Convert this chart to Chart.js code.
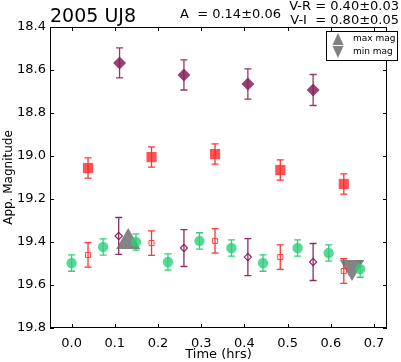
<!DOCTYPE html>
<html>
<head>
<meta charset="utf-8">
<script src="https://cdn.jsdelivr.net/npm/chart.js@4.4.1/dist/chart.umd.min.js"></script>
<style>
  html, body { margin: 0; padding: 0; background: #fff; }
</style>
</head>
<body>
<canvas id="lightcurve" width="401" height="362"></canvas>
<script>
// tick labels
const xTicks = [0.0, 0.1, 0.2, 0.3, 0.4, 0.5, 0.6, 0.7];
const yTicks = [18.4, 18.6, 18.8, 19.0, 19.2, 19.4, 19.6, 19.8];

// V-I (offset) - filled diamonds
const viTime = [0.111, 0.260, 0.408, 0.559];
const viMag  = [18.567, 18.623, 18.665, 18.693];
const viErr  = [0.070, 0.070, 0.070, 0.072];

// V-R (offset) - filled squares
const vrTime = [0.038, 0.185, 0.332, 0.483, 0.630];
const vrMag  = [19.056, 19.005, 18.991, 19.065, 19.130];
const vrErr  = [0.047, 0.047, 0.047, 0.047, 0.047];

// V - circles
const vTime = [0.000, 0.073, 0.149, 0.223, 0.296, 0.370, 0.443, 0.523, 0.595, 0.668];
const vMag  = [19.498, 19.423, 19.400, 19.493, 19.395, 19.428, 19.498, 19.428, 19.451, 19.526];
const vErr  = [0.038, 0.038, 0.038, 0.038, 0.038, 0.038, 0.038, 0.038, 0.038, 0.038];

// R shifted to V - open squares
const rTime = [0.038, 0.185, 0.332, 0.483, 0.630];
const rMag  = [19.460, 19.405, 19.395, 19.470, 19.535];
const rErr  = [0.057, 0.057, 0.057, 0.057, 0.057];

// I shifted to V - open diamonds
const iTime = [0.109, 0.260, 0.408, 0.559];
const iMag  = [19.372, 19.428, 19.470, 19.493];
const iErr  = [0.086, 0.086, 0.086, 0.086];

// extrema
const maxTime = [0.131];
const maxMag  = [19.400];
const minTime = [0.649];
const minMag  = [19.516];

function pts(t, m, e) {
    return t.map((v, i) => ({ x: v, y: m[i], err: e ? e[i] : 0 }));
}

const FONT = 'DejaVu Sans';

// draws vertical error bars with caps, under the markers
const errorBars = {
    id: 'errorBars',
    beforeDatasetsDraw(chart) {
        const ctx = chart.ctx;
        const xs = chart.scales.x, ys = chart.scales.y;
        chart.data.datasets.forEach(ds => {
            if (!ds.errColor) return;
            ctx.save();
            ctx.strokeStyle = ds.errColor;
            ctx.lineWidth = 1.3;
            ds.data.forEach(p => {
                if (!p.err) return;
                const px = xs.getPixelForValue(p.x);
                const y1 = ys.getPixelForValue(p.y - p.err);
                const y2 = ys.getPixelForValue(p.y + p.err);
                ctx.beginPath();
                ctx.moveTo(px, y1); ctx.lineTo(px, y2);
                ctx.moveTo(px - 3.5, y1); ctx.lineTo(px + 3.5, y1);
                ctx.moveTo(px - 3.5, y2); ctx.lineTo(px + 3.5, y2);
                ctx.stroke();
            });
            ctx.restore();
        });
    }
};

// frame, inward ticks, annotations and the small legend box
const decorations = {
    id: 'decorations',
    afterDraw(chart) {
        const ctx = chart.ctx;
        const a = chart.chartArea;
        const xs = chart.scales.x, ys = chart.scales.y;
        ctx.save();
        ctx.strokeStyle = '#000';
        ctx.lineWidth = 1;
        ctx.strokeRect(a.left + 0.5, a.top + 0.5, a.right - a.left - 1, a.bottom - a.top - 1);

        ctx.beginPath();
        xTicks.forEach(t => {
            const px = Math.round(xs.getPixelForValue(t)) + 0.5;
            ctx.moveTo(px, a.bottom); ctx.lineTo(px, a.bottom - 4);
            ctx.moveTo(px, a.top); ctx.lineTo(px, a.top + 4);
        });
        yTicks.forEach(t => {
            const py = Math.round(ys.getPixelForValue(t)) + 0.5;
            ctx.moveTo(a.left, py); ctx.lineTo(a.left + 4, py);
            ctx.moveTo(a.right, py); ctx.lineTo(a.right - 4, py);
        });
        ctx.stroke();

        ctx.fillStyle = '#000';
        ctx.textBaseline = 'alphabetic';
        ctx.textAlign = 'left';
        ctx.font = '19px "' + FONT + '"';
        ctx.fillText('2005 UJ8', 50, 22);
        ctx.font = '13px "' + FONT + '"';
        ctx.fillText('A  = 0.14\u00b10.06', 180, 18);
        ctx.textAlign = 'right';
        ctx.fillText('V-R = 0.40\u00b10.03', 399, 10);
        ctx.fillText('V-I  = 0.80\u00b10.05', 399, 24);

        // legend
        ctx.fillStyle = '#fff';
        ctx.fillRect(326, 31, 72, 30);
        ctx.strokeRect(326.5, 31.5, 71, 29);
        ctx.fillStyle = '#808080';
        ctx.beginPath();
        ctx.moveTo(338, 33); ctx.lineTo(343.5, 45); ctx.lineTo(332.5, 45); ctx.closePath();
        ctx.fill();
        ctx.beginPath();
        ctx.moveTo(332.5, 46); ctx.lineTo(343.5, 46); ctx.lineTo(338, 58); ctx.closePath();
        ctx.fill();
        ctx.fillStyle = '#000';
        ctx.textAlign = 'left';
        ctx.textBaseline = 'middle';
        ctx.font = '9px "' + FONT + '"';
        ctx.fillText('max mag', 353, 39);
        ctx.fillText('min mag', 353, 52);
        ctx.restore();
    }
};

const ctx = document.getElementById('lightcurve').getContext('2d');
const lightcurve = new Chart(ctx, {
    type: 'scatter',
    data: {
        datasets: [
            {
                label: 'V-I',
                data: pts(viTime, viMag, viErr),
                pointStyle: 'rectRot',
                pointRadius: 6.5,
                backgroundColor: 'rgba(135, 30, 95, 0.85)',
                borderColor: 'rgba(135, 30, 95, 0.85)',
                borderWidth: 0,
                errColor: 'rgba(130, 20, 80, 0.85)'
            },
            {
                label: 'V-R',
                data: pts(vrTime, vrMag, vrErr),
                pointStyle: 'rect',
                pointRadius: 7.2,
                backgroundColor: 'rgba(255, 40, 40, 0.8)',
                borderWidth: 0,
                errColor: 'rgba(255, 30, 30, 0.9)'
            },
            {
                label: 'V',
                data: pts(vTime, vMag, vErr),
                pointStyle: 'circle',
                pointRadius: 5.2,
                backgroundColor: 'rgba(40, 210, 120, 0.8)',
                borderWidth: 0,
                errColor: 'rgba(30, 200, 110, 0.9)'
            },
            {
                label: 'R',
                data: pts(rTime, rMag, rErr),
                pointStyle: 'rect',
                pointRadius: 3.6,
                backgroundColor: 'rgba(255, 255, 255, 0)',
                borderColor: 'rgba(255, 40, 40, 0.85)',
                borderWidth: 1,
                errColor: 'rgba(255, 30, 30, 0.9)'
            },
            {
                label: 'I',
                data: pts(iTime, iMag, iErr),
                pointStyle: 'rectRot',
                pointRadius: 3.6,
                backgroundColor: 'rgba(255, 255, 255, 0)',
                borderColor: 'rgba(130, 20, 80, 0.9)',
                borderWidth: 1.2,
                errColor: 'rgba(130, 20, 80, 0.9)'
            },
            {
                label: 'max mag',
                data: pts(maxTime, maxMag),
                pointStyle: 'triangle',
                pointRadius: 14,
                backgroundColor: 'rgba(110, 110, 110, 0.85)',
                borderWidth: 0
            },
            {
                label: 'min mag',
                data: pts(minTime, minMag),
                pointStyle: 'triangle',
                pointRotation: 180,
                pointRadius: 14,
                backgroundColor: 'rgba(110, 110, 110, 0.85)',
                borderWidth: 0
            }
        ]
    },
    options: {
        responsive: false,
        animation: false,
        devicePixelRatio: 1,
        layout: { padding: { top: 27, right: 1, left: 0, bottom: 0 } },
        plugins: {
            legend: { display: false },
            tooltip: { enabled: false }
        },
        scales: {
            x: {
                type: 'linear',
                min: -0.05,
                max: 0.73,
                afterBuildTicks: s => { s.ticks = xTicks.map(v => ({ value: v })); },
                afterFit: s => { s.height = 34; },
                grid: { display: false, drawTicks: false, tickLength: 0 },
                border: { display: false },
                ticks: {
                    color: '#000',
                    padding: 8,
                    font: { family: FONT, size: 13 },
                    callback: v => v.toFixed(1)
                },
                title: {
                    display: true,
                    text: 'Time (hrs)',
                    color: '#000',
                    padding: { top: 0, bottom: 0 },
                    font: { family: FONT, size: 13 }
                }
            },
            y: {
                type: 'linear',
                reverse: true,
                min: 18.4,
                max: 19.8,
                afterBuildTicks: s => { s.ticks = yTicks.map(v => ({ value: v })); },
                afterFit: s => { s.width = 50; },
                grid: { display: false, drawTicks: false, tickLength: 0 },
                border: { display: false },
                ticks: {
                    color: '#000',
                    padding: 4,
                    font: { family: FONT, size: 13 },
                    callback: v => v.toFixed(1)
                },
                title: {
                    display: true,
                    text: 'App. Magnitude',
                    color: '#000',
                    padding: { top: 2, bottom: 0 },
                    font: { family: FONT, size: 12 }
                }
            }
        }
    },
    plugins: [errorBars, decorations]
});
</script>
</body>
</html>
